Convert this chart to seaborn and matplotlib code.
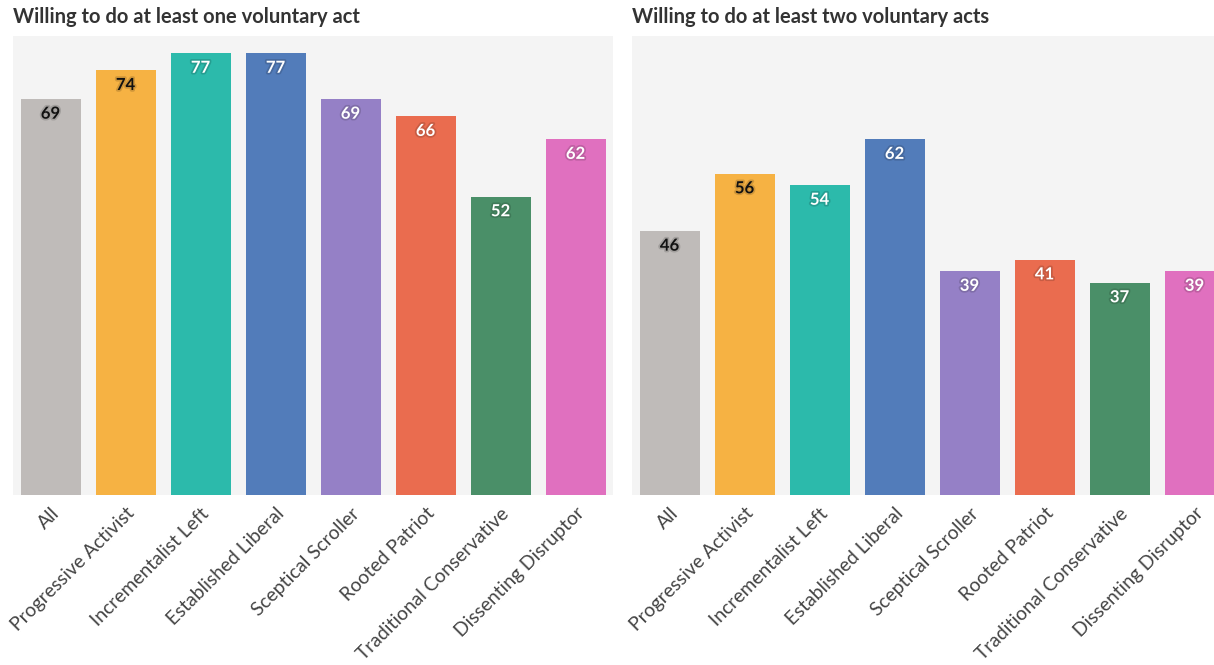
import pandas as pd
import seaborn as sns
import matplotlib.pyplot as plt
import matplotlib.patheffects as pe
import matplotlib.colors as mcolors

# Segment names and values
segments = ["All", "Progressive Activist", "Incrementalist Left", "Established Liberal",
            "Sceptical Scroller", "Rooted Patriot", "Traditional Conservative",
            "Dissenting Disruptor"]
at_least_one = [69, 74, 77, 77, 69, 66, 52, 62]
at_least_two = [46, 56, 54, 62, 39, 41, 37, 39]
titles = ["Willing to do at least one voluntary act",
          "Willing to do at least two voluntary acts"]

bar_colors = ["#bfbbb9", "#f6b243", "#2cbaab", "#527cba", "#9580c6",
              "#ea6c4f", "#4a8f68", "#e070bf"]
label_colors = ["#111111", "#111111", "white", "white", "white", "white", "white", "white"]

sns.set_style("white")
plt.rcParams['font.family'] = ['Lato', 'DejaVu Sans']

fig = plt.figure(figsize=(12.14, 6.65), dpi=100)
ax_w = 600 / 1214
ax_h = 459 / 665
ax_b = (665 - 495) / 665
lefts = [13 / 1214, 632 / 1214]

for i, (vals, title) in enumerate(zip([at_least_one, at_least_two], titles)):
    ax = fig.add_axes([lefts[i], ax_b, ax_w, ax_h])
    df = pd.DataFrame({"segment": segments, "value": vals})
    sns.barplot(data=df, x="segment", y="value", hue="segment", palette=bar_colors,
                order=segments, hue_order=segments, width=0.8, legend=False,
                saturation=1, edgecolor="none", ax=ax)
    ax.set_facecolor("#f4f4f4")
    ax.set_ylim(0, 80)
    ax.set_xlim(-0.5, len(segments) - 0.5)
    ax.set_yticks([])
    ax.set_xlabel("")
    ax.set_ylabel("")
    for s in ax.spines.values():
        s.set_visible(False)
    ax.tick_params(axis="x", length=5, color="#cccccc", labelsize=13.9,
                   labelcolor="#444444", pad=2)
    ax.set_xticks(range(len(segments)))
    ax.set_xticklabels(segments, rotation=45, ha="right", rotation_mode="anchor")

    # value labels inside bar tops
    for j, v in enumerate(vals):
        halo = mcolors.to_rgb(bar_colors[j])
        halo = tuple(c * 0.85 for c in halo)
        ax.annotate(str(v), (j, v), xytext=(0, -10.5), textcoords="offset points",
                    ha="center", va="center", fontsize=12, fontweight="bold",
                    color=label_colors[j],
                    path_effects=[pe.withStroke(linewidth=2.5, foreground=halo)])

    fig.text(lefts[i], 1 - 17 / 665, title, fontsize=14.5, fontweight="bold",
             color="#333333", ha="left", va="center")

plt.savefig("out.png", dpi=100)
plt.close()
